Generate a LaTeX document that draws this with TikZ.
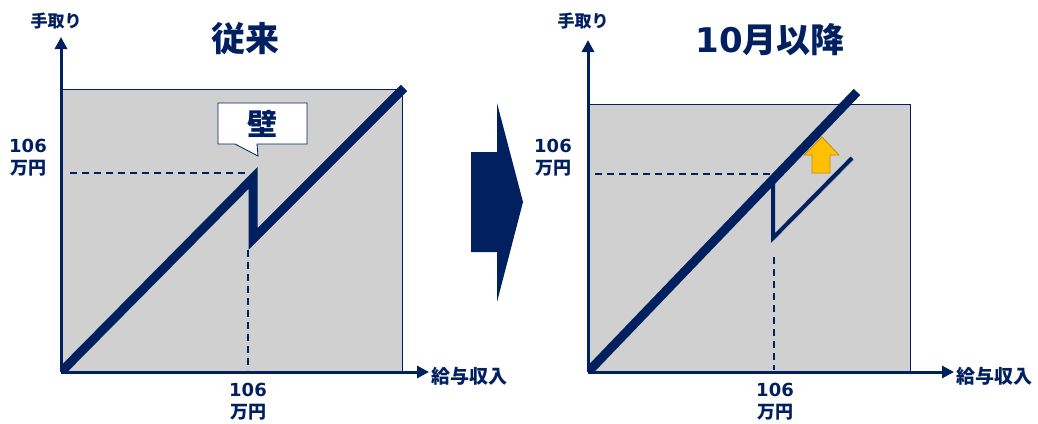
\documentclass[tikz,border=0pt]{standalone}
\usepackage{fontspec}
\setmainfont{DejaVu Sans}
\newfontfamily\jp{Noto Sans CJK JP}
\usepackage{xcolor}
\usepackage{tikz}
\usetikzlibrary{arrows.meta,positioning,calc}

\definecolor{navy}{RGB}{0,32,96}
\definecolor{nen}{RGB}{208,208,208}
\definecolor{vang}{RGB}{255,192,0}
\definecolor{vienvang}{RGB}{190,140,20}

\tikzset{
    bong/.style={preaction={draw=black, opacity=0.18, transform canvas={shift={(1.5pt,-2pt)}}}},
    truc/.style={navy, line width=3pt, -{Triangle[length=12pt,width=12pt]}},
    duongday/.style={navy, line width=9pt, line join=miter, bong},
    duongmanh/.style={navy, line width=4pt, line join=miter, bong},
    gach/.style={navy, line width=1.5pt, dash pattern=on 7pt off 5pt},
    nhan/.style={text=navy, font=\bfseries\fontsize{18}{20}\selectfont, inner sep=0pt},
    tieude/.style={text=navy, font=\bfseries\fontsize{34}{38}\selectfont, inner sep=0pt}
}

\begin{document}
\begin{tikzpicture}[x=1pt, y=-1pt]
            \useasboundingbox (0,0) rectangle (1038,423);

            % Khung trái - Nền xám
            \fill[nen] (61,89) rectangle (402,372);
            \draw[navy, line width=0.8pt] (61,372) |- (402,89) -- (402,372);

            % Trục trái
            \coordinate (O1) at (61,372);
            \coordinate (Y1) at (61,37);
            \coordinate (X1) at (429,372);

            % Đường nét đứt 106 vạn yên
            \coordinate (H1a) at (70,173);
            \coordinate (H1b) at (247,173);
            \coordinate (V1a) at (248,250);
            \coordinate (V1b) at (248,370);
            \draw[gach] (H1a) -- (H1b);
            \draw[gach] (V1a) -- (V1b);

            % Đường thu nhập có "bức tường" - chỉ vẽ phía trên trục
            \coordinate (P1) at (253,178);
            \coordinate (P2) at (253,239);
            \coordinate (E1) at (404,88);
            \begin{scope}
                \clip (61,0) rectangle (520,372);
                \draw[duongday] (O1) -- (P1) -- (P2) -- (E1);
            \end{scope}
            \draw[truc] (O1) -- (Y1);
            \draw[truc] (O1) -- (X1);

            % Bong bóng chú thích
            \draw[navy, line width=0.8pt, fill=white]
                (218,103) -- (307,103) -- (307,144) -- (257,144) -- (258,156) -- (235,144) -- (218,144) -- cycle;
            \node[tieude, font=\bfseries\jp\fontsize{30}{32}\selectfont] (kabe) at (262,124) {壁};

            % Nhãn trái
            \node[tieude, font=\bfseries\jp\fontsize{34}{38}\selectfont] (title1) at (245,39) {従来};
            \node[nhan, font=\bfseries\jp\fontsize{17}{18}\selectfont] (tedori1) at (56,21) {手取り};
            \node[nhan, font=\bfseries\jp\fontsize{19}{20}\selectfont, anchor=west] (kyuyo1) at (431,376) {給与収入};
            \node[nhan] (ya1) at (28,146) {106};
            \node[nhan, font=\bfseries\jp\fontsize{18}{20}\selectfont] (yb1) at (28,168) {万円};
            \node[nhan] (xa1) at (248,390) {106};
            \node[nhan, font=\bfseries\jp\fontsize{18}{20}\selectfont] (xb1) at (248,412) {万円};

            % Mũi tên lớn ở giữa
            \fill[navy] (471,152) -- (497,152) -- (497,103) -- (523,202) -- (497,302) -- (497,252) -- (471,252) -- cycle;

            % Khung phải - Nền xám
            \fill[nen] (588,104) rectangle (910,372);
            \draw[navy, line width=0.8pt] (588,372) |- (910,104) -- (910,372);

            % Trục phải
            \coordinate (O2) at (588,372);
            \coordinate (Y2) at (588,40);
            \coordinate (X2) at (954,372);

            % Đường nét đứt bên phải
            \coordinate (H2a) at (595,174);
            \coordinate (H2b) at (770,174);
            \coordinate (V2a) at (774,257);
            \coordinate (V2b) at (774,370);
            \draw[gach] (H2a) -- (H2b);
            \draw[gach] (V2a) -- (V2b);

            % Đường cũ (mảnh) và đường mới (dày)
            \coordinate (Q1) at (773,180);
            \coordinate (Q2) at (773,238);
            \coordinate (E3) at (852,158);
            \coordinate (E2) at (857,92);
            \draw[duongmanh] (Q1) -- (Q2) -- (E3);
            \begin{scope}
                \clip (588,0) rectangle (1038,372);
                \draw[duongday] (O2) -- (E2);
            \end{scope}
            \draw[truc] (O2) -- (Y2);
            \draw[truc] (O2) -- (X2);

            % Mũi tên vàng
            \draw[vienvang, line width=0.8pt, fill=vang]
                (822,137) -- (839,155) -- (830,155) -- (830,173) -- (812,173) -- (812,155) -- (804,155) -- cycle;

            % Nhãn phải
            \node[tieude] (title2) at (770,40) {10{\jp 月以降}};
            \node[nhan, font=\bfseries\jp\fontsize{17}{18}\selectfont] (tedori2) at (583,21) {手取り};
            \node[nhan, font=\bfseries\jp\fontsize{19}{20}\selectfont, anchor=west] (kyuyo2) at (956,376) {給与収入};
            \node[nhan] (ya2) at (553,146) {106};
            \node[nhan, font=\bfseries\jp\fontsize{18}{20}\selectfont] (yb2) at (553,168) {万円};
            \node[nhan] (xa2) at (775,390) {106};
            \node[nhan, font=\bfseries\jp\fontsize{18}{20}\selectfont] (xb2) at (775,412) {万円};
        \end{tikzpicture}
\end{document}
